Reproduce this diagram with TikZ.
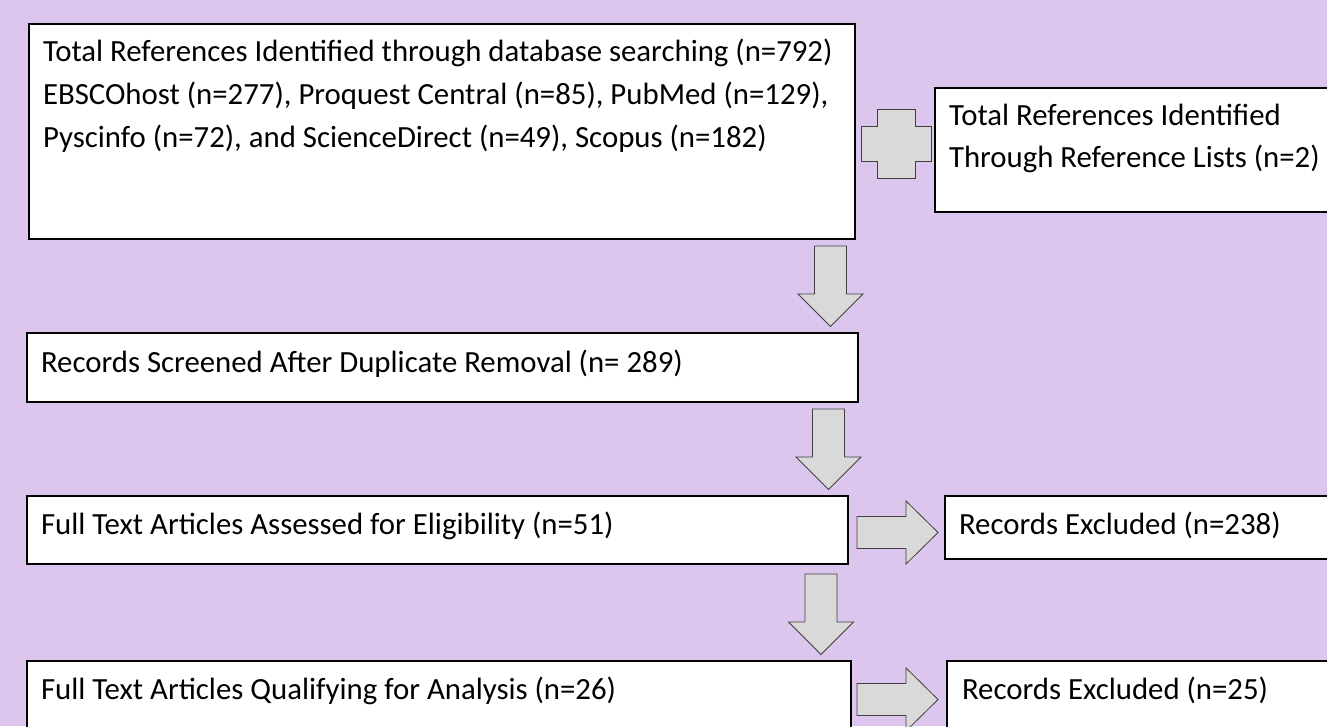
\documentclass[tikz,border=0pt]{standalone}
\usepackage{fontspec}
\setmainfont{Carlito}
\definecolor{bgpurple}{RGB}{220,198,238}
\definecolor{arrowfill}{RGB}{217,217,217}
\definecolor{arrowline}{RGB}{64,64,64}
\begin{document}
\begin{tikzpicture}[x=1bp,y=-1bp,
  boxnode/.style={draw=black,line width=1.4bp,fill=white,rectangle,anchor=north west,inner sep=0,outer sep=0},
  txt/.style={anchor=base west,inner sep=0,outer sep=0,font=\fontsize{30.8bp}{36bp}\selectfont},
  blockarrow/.style={draw=arrowline,fill=arrowfill,line width=0.8bp,line join=miter},
  downarr/.pic={\path[blockarrow] (-16,0) -- (16,0) -- (16,48) -- (32.5,48) -- (0,80.5) -- (-32.5,48) -- (-16,48) -- cycle;},
  rightarr/.pic={\path[blockarrow] (0,-16) -- (49,-16) -- (49,-31.5) -- (81,0) -- (49,31.5) -- (49,16) -- (0,16) -- cycle;}]
\useasboundingbox (0,0) rectangle (1327,726);
\clip (0,0) rectangle (1327,726);
\fill[bgpurple] (0,0) rectangle (1327,726);
% boxes
\node[boxnode,minimum width=826bp,minimum height=215bp] (b1) at (29,24) {};
\node[boxnode,minimum width=600bp,minimum height=124bp] (b2) at (935,88) {};
\node[boxnode,minimum width=831bp,minimum height=69bp] (b3) at (27,333) {};
\node[boxnode,minimum width=821bp,minimum height=68bp] (b4) at (27,496) {};
\node[boxnode,minimum width=600bp,minimum height=63bp] (b5) at (945,496) {};
\node[boxnode,minimum width=824bp,minimum height=90bp] (b6) at (27,661) {};
\node[boxnode,minimum width=600bp,minimum height=90bp] (b7) at (947,661) {};
% texts
\node[txt] (t1a) at (43,62) {Total References Identified through database searching (n=792)};
\node[txt] (t1b) at (43,104.5) {EBSCOhost (n=277), Proquest Central (n=85), PubMed (n=129),};
\node[txt] (t1c) at (43,147) {Pyscinfo (n=72), and ScienceDirect (n=49), Scopus (n=182)};
\node[txt] (t2a) at (949,126) {Total References Identified};
\node[txt] (t2b) at (949,167) {Through Reference Lists (n=2)};
\node[txt] (t3) at (41,372) {Records Screened After Duplicate Removal (n= 289)};
\node[txt] (t4) at (41,534) {Full Text Articles Assessed for Eligibility (n=51)};
\node[txt] (t5) at (959,534) {Records Excluded (n=238)};
\node[txt] (t6) at (41,699) {Full Text Articles Qualifying for Analysis (n=26)};
\node[txt] (t7) at (962,699) {Records Excluded (n=25)};
% plus sign
\draw[blockarrow]
  (877,109) -- (915,109) -- (915,126) -- (931,126) -- (931,161) -- (915,161) -- (915,178)
  -- (877,178) -- (877,161) -- (861,161) -- (861,126) -- (877,126) -- cycle;
% block arrows
\coordinate (a1) at (830.5,246);
\coordinate (a2) at (828.5,409);
\coordinate (a3) at (857,532.5);
\coordinate (a4) at (821,574);
\coordinate (a5) at (857,699.5);
\pic at (a1) {downarr};
\pic at (a2) {downarr};
\pic at (a3) {rightarr};
\pic at (a4) {downarr};
\pic at (a5) {rightarr};
\end{tikzpicture}
\end{document}
